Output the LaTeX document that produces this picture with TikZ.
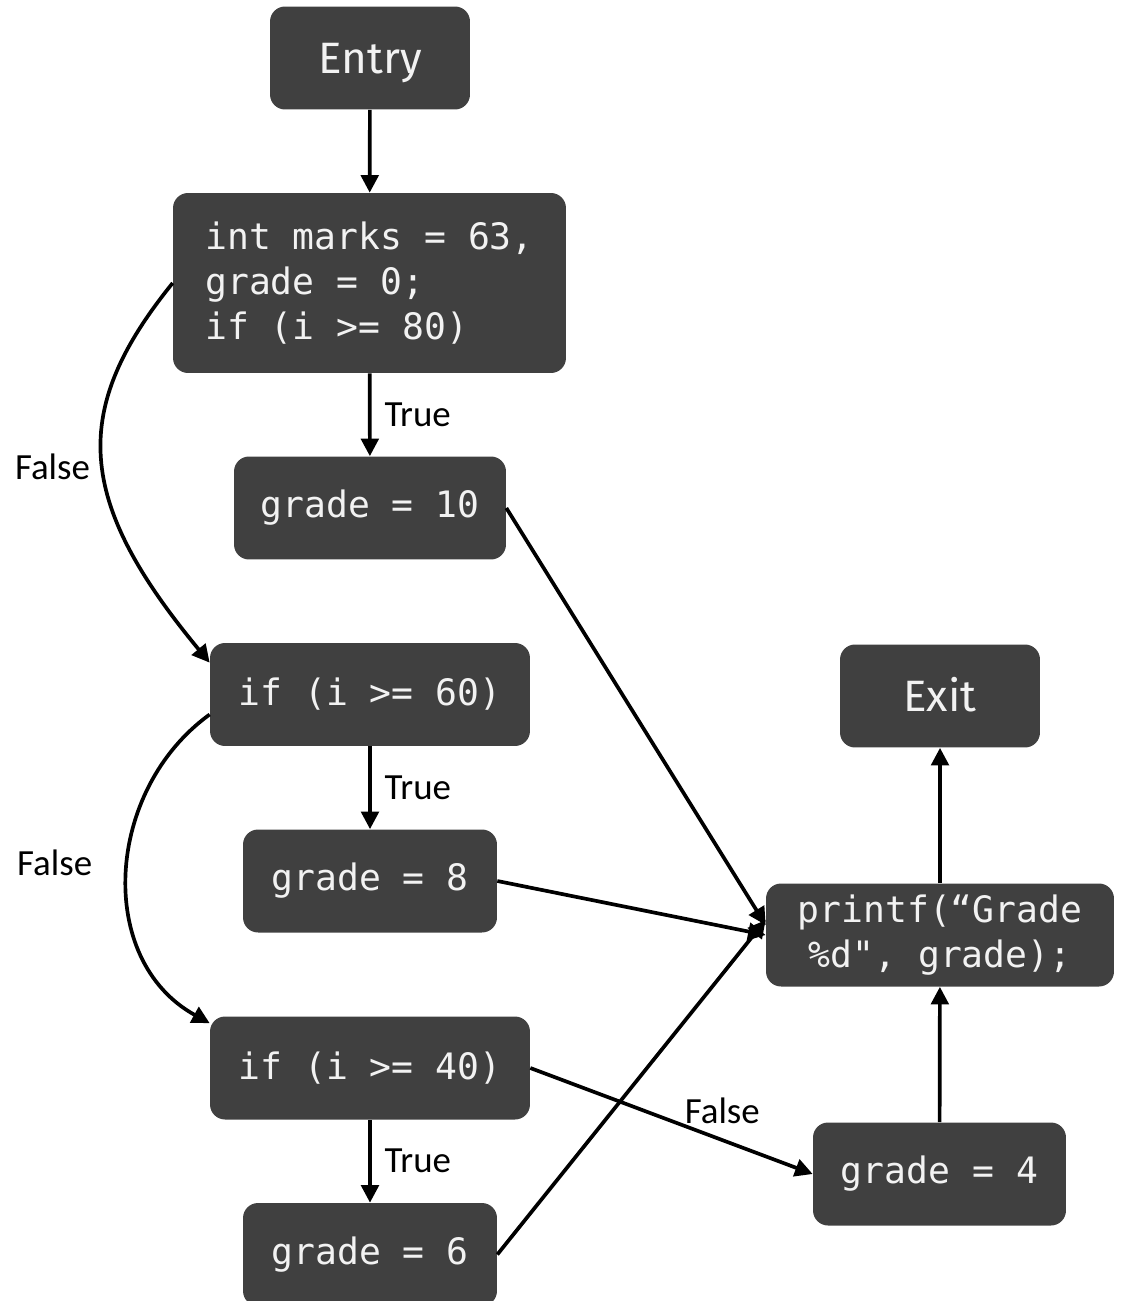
\documentclass[tikz,border=0pt]{standalone}
\usepackage{fontspec}
\setmonofont{DejaVu Sans Mono}
\setsansfont{Fira Sans}
\newfontfamily\lblfont{Carlito}
\usepackage{xcolor}
\usetikzlibrary{arrows.meta,shapes}
\definecolor{boxgray}{HTML}{404040}
\definecolor{boxtext}{HTML}{F2F2F2}

\begin{document}
\begin{tikzpicture}[x=0.02cm, y=-0.02cm,
  blk/.style={fill=boxgray, rounded corners=0.3cm, text=boxtext,
    minimum height=2.06cm, inner sep=0pt},
  code/.style={blk, font=\ttfamily\fontsize{20.7}{25.8}\selectfont},
  term/.style={blk, font=\sffamily\fontsize{25}{30}\selectfont, minimum width=4cm,
    text height=17.2pt, text depth=0pt},
  arr/.style={line width=2.1pt, -{Triangle[length=10pt,width=10pt]}},
  lbl/.style={font=\lblfont\fontsize{21}{25}\selectfont, text=black}]
\useasboundingbox (0,0) rectangle (1122,1301);
% blocks of the flow graph
\node[term] (entry) at (370,58) {Entry};
\node[code, minimum width=7.86cm, minimum height=3.6cm, align=left] (init) at (369.5,283)
  {int marks = 63,\\grade = 0;\\if (i >= 80)};
\node[code, minimum width=5.44cm] (g10) at (370,508) {grade = 10};
\node[code, minimum width=6.4cm] (if60) at (370,694.5) {if (i >= 60)};
\node[code, minimum width=5.08cm] (g8) at (370,881) {grade = 8};
\node[code, minimum width=6.4cm] (if40) at (370,1068) {if (i >= 40)};
\node[code, minimum width=5.08cm] (g6) at (370,1254.5) {grade = 6};
\node[term] (exit) at (940,696) {Exit};
\node[code, minimum width=6.96cm, align=center] (print) at (940,935)
  {printf(“Grade\\\%d", grade);};
\node[code, minimum width=5.06cm] (g4) at (939.5,1174) {grade = 4};
% edges
\draw[arr] (entry) -- (init);
\draw[arr] (init) -- node[lbl, right=4pt] {True} (g10);
\draw[arr] (init.west) .. controls (70,410) and (75,500) .. node[lbl, left=3pt, pos=0.52] {False} ([yshift=-0.4cm]if60.north west);
\draw[arr] (if60) -- node[lbl, right=4pt] {True} (g8);
\draw[arr] ([yshift=-0.4cm]if60.west) .. controls (105,790) and (95,960) .. node[lbl, left=16pt, pos=0.47] {False} ([yshift=-0.14cm]if40.north west);
\draw[arr] (if40) -- node[lbl, right=4pt] {True} (g6);
\draw[arr] (if40.east) -- node[lbl, pos=0.68, above=5pt] {False} (g4.west);
\draw[arr] (g10.east) -- ([yshift=0.2cm]print.west);
\draw[arr] (g8.east) -- (print.west);
\draw[arr] (g6.east) -- ([yshift=0.3cm]print.west);
\draw[arr] (g4) -- (print);
\draw[arr] (print) -- (exit);
\end{tikzpicture}
\end{document}
